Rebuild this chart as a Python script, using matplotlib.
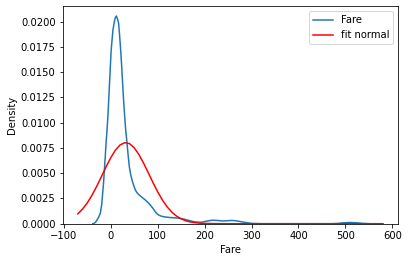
import matplotlib
matplotlib.use("Agg")
import matplotlib.pyplot as plt
from matplotlib.ticker import FormatStrFormatter

# Blue KDE of Fare
fare_x = [-38, -36, -32, -29, -25, -22, -19, -17, -15, -13.4, -11.5, -9.8, -7.5, -5.5, -3,
          -0.6, 1, 3, 5, 7.9, 10, 12.1, 14.5, 17, 19, 21.3, 23.5, 25.5, 27.5, 29.8, 32,
          34.9, 37, 39.8, 42.5, 45.5, 49, 52.6, 56, 60, 66, 74, 79, 84.5, 90, 95, 99, 102,
          107, 113, 124, 134, 148, 155, 162.5, 170, 176.6, 184, 191, 197, 202.8, 210, 217,
          228, 240, 250, 258, 265, 272, 281, 290, 300, 320, 400, 470, 482, 496, 510, 524,
          538, 551]
fare_y = [0.0, 0.00002, 0.00015, 0.00037, 0.0007, 0.00103, 0.0019, 0.0030, 0.0041, 0.00532,
          0.0066, 0.00796, 0.0094, 0.0109, 0.0133, 0.01555, 0.0171, 0.01819, 0.0192, 0.0200,
          0.0204, 0.02056, 0.0203, 0.01984, 0.0187, 0.0172, 0.0156, 0.0139, 0.0123, 0.0107,
          0.0093, 0.00796, 0.0069, 0.00564, 0.0049, 0.00433, 0.0038, 0.00334, 0.00308,
          0.00288, 0.00264, 0.00234, 0.00212, 0.00185, 0.00152, 0.00119, 0.00098, 0.00086,
          0.00076, 0.00069, 0.00062, 0.00059, 0.00053, 0.00047, 0.00037, 0.00028, 0.0002,
          0.00016, 0.00014, 0.00017, 0.00024, 0.0003, 0.00035, 0.00032, 0.00027, 0.00030,
          0.00032, 0.00030, 0.00025, 0.00017, 0.0001, 0.00003, 0.0, 0.0, 0.0, 0.00002,
          0.00009, 0.00012, 0.00009, 0.00003, 0.0]

# Red fitted normal curve
norm_x = [-70, -60, -50, -40, -30, -20, -10, 0, 10, 20, 30, 40, 50, 60, 70, 80, 90, 100,
          110, 120, 130, 140, 150, 160, 170, 180, 190, 200, 220, 250, 300, 400, 500, 580]
norm_y = [0.00097, 0.00144, 0.00204, 0.00279, 0.00367, 0.00462, 0.00560, 0.00651, 0.00727,
          0.00779, 0.00802, 0.00793, 0.00753, 0.00686, 0.00601, 0.00506, 0.00408, 0.00317,
          0.00236, 0.00169, 0.00116, 0.00076, 0.00048, 0.00029, 0.00017, 0.0001, 0.00005,
          0.00003, 0.00001, 0.0, 0.0, 0.0, 0.0, 0.0]

yticks = [0.0, 0.0025, 0.005, 0.0075, 0.01, 0.0125, 0.015, 0.0175, 0.02]
xticks = [-100, 0, 100, 200, 300, 400, 500, 600]

fig = plt.figure(figsize=(408 / 72, 262 / 72), dpi=72)
ax = fig.add_axes([62.5 / 408, 1 - 223.7 / 262, (398.3 - 62.5) / 408, (223.7 - 6) / 262])

ax.plot(fare_x, fare_y, color="#1f77b4", lw=1.5, label="Fare")
ax.plot(norm_x, norm_y, color="red", lw=1.5, label="fit normal")

ax.set_xlim(-102.5, 612.5)
ax.set_ylim(0, 0.02155)
ax.set_xticks(xticks)
ax.set_yticks(yticks)
ax.yaxis.set_major_formatter(FormatStrFormatter("%.4f"))
ax.set_xlabel("Fare")
ax.set_ylabel("Density")
ax.legend(loc="upper right")

fig.savefig("out.png", dpi=72)
